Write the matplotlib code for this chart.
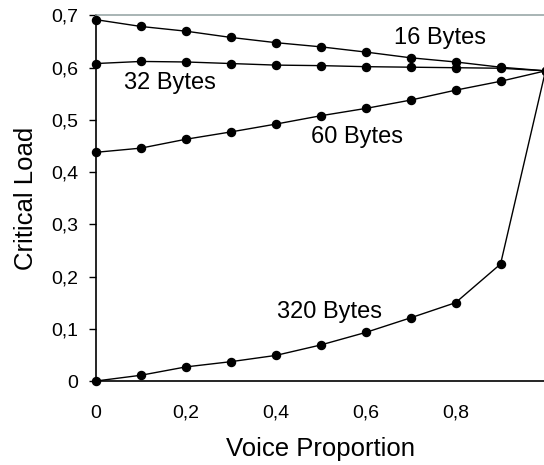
import matplotlib
matplotlib.use("Agg")
import matplotlib.pyplot as plt
from matplotlib.ticker import FuncFormatter

plt.rcParams['font.family'] = ['Liberation Sans', 'DejaVu Sans']

voice = [0.0, 0.1, 0.2, 0.3, 0.4, 0.5, 0.6, 0.7, 0.8, 0.9, 1.0]
load_16 = [0.692, 0.679, 0.670, 0.658, 0.648, 0.640, 0.630, 0.619, 0.611, 0.601, 0.594]
load_32 = [0.608, 0.612, 0.611, 0.608, 0.605, 0.604, 0.602, 0.601, 0.600, 0.599, 0.594]
load_60 = [0.438, 0.446, 0.463, 0.477, 0.492, 0.508, 0.522, 0.538, 0.557, 0.574, 0.594]
load_320 = [0.0, 0.011, 0.027, 0.037, 0.049, 0.069, 0.093, 0.121, 0.150, 0.224, 0.594]

series = [load_16, load_32, load_60, load_320]
labels = ["16 Bytes", "32 Bytes", "60 Bytes", "320 Bytes"]
label_pos = [(0.766, 0.657), (0.165, 0.571), (0.58, 0.467), (0.52, 0.132)]

xticks = [0.0, 0.2, 0.4, 0.6, 0.8]
yticks = [0.0, 0.1, 0.2, 0.3, 0.4, 0.5, 0.6, 0.7]

fig = plt.figure(figsize=(5.44, 4.65), dpi=100)
ax = fig.add_axes([96 / 544, 84 / 465, 449.5 / 544, 365.5 / 465])

for s in series:
    ax.plot(voice, s, color='black', linewidth=1.0, marker='o', markersize=5.8,
            clip_on=False, zorder=3)

for lab, (x, y) in zip(labels, label_pos):
    ax.text(x, y, lab, fontsize=17, ha='center', va='center')

ax.set_xlim(0, 1.0)
ax.set_ylim(0, 0.7)
ax.set_xticks(xticks)
ax.set_yticks(yticks)

def fmt(v, pos):
    if abs(v) < 1e-9:
        return "0"
    return ("%.1f" % v).replace('.', ',')

ax.xaxis.set_major_formatter(FuncFormatter(fmt))
ax.yaxis.set_major_formatter(FuncFormatter(fmt))

ax.tick_params(axis='x', length=0, pad=17, labelsize=14)
ax.tick_params(axis='y', length=5, width=1, direction='out', pad=8, labelsize=14)

ax.spines['top'].set_color('#9aa8a8')
ax.spines['top'].set_linewidth(1.2)
ax.spines['right'].set_visible(False)
ax.spines['left'].set_color('black')
ax.spines['bottom'].set_color('black')
ax.spines['left'].set_linewidth(1.2)
ax.spines['bottom'].set_linewidth(1.2)

ax.set_xlabel("Voice Proportion", fontsize=18.5, labelpad=11)
ax.set_ylabel("Critical Load", fontsize=18.5, labelpad=9)

fig.savefig("out.png", dpi=100)
